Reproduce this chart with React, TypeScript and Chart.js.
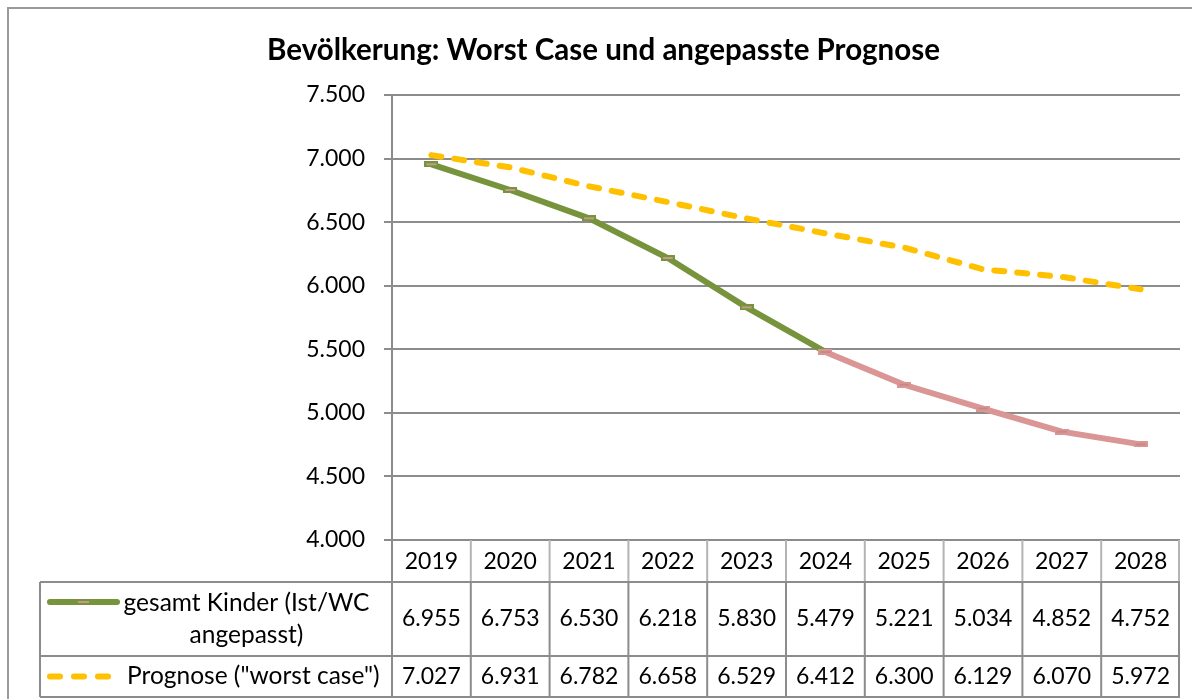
import React, { useEffect, useRef } from "react";
import { Chart, registerables } from "chart.js";

Chart.register(...registerables);

const TITLE = "Bevölkerung: Worst Case und angepasste Prognose";
const years = ["2019", "2020", "2021", "2022", "2023", "2024", "2025", "2026", "2027", "2028"];
const gesamtKinder = [6955, 6753, 6530, 6218, 5830, 5479, 5221, 5034, 4852, 4752];
const prognose = [7027, 6931, 6782, 6658, 6529, 6412, 6300, 6129, 6070, 5972];
const seriesNames = ["gesamt Kinder (Ist/WC angepasst)", 'Prognose ("worst case")'];
const legendLines1 = ["gesamt Kinder (Ist/WC", "angepasst)"];
const legendLines2 = ['Prognose ("worst case")'];
const Y_MIN = 4000;
const Y_MAX = 7500;
const Y_STEP = 500;
const ACTUAL_LAST_INDEX = 5;

const GREEN = "#77933C";
const PINK = "#D99694";
const ORANGE = "#FFC000";
const MARKER = "#C49A88";
const GRID = "#8c8c8c";
const FONT = "Lato, 'Open Sans', sans-serif";

const fmt = (v: number) => String(Math.round(v)).replace(/\B(?=(\d{3})+(?!\d))/g, ".");

function makeMarker(outer: string, inner: string): HTMLCanvasElement {
  const c = document.createElement("canvas");
  c.width = 14;
  c.height = 6;
  const g = c.getContext("2d")!;
  g.fillStyle = outer;
  g.fillRect(0, 0, 14, 6);
  g.fillStyle = inner;
  g.fillRect(2, 2, 10, 2);
  return c;
}

const tablePlugin = {
  id: "tablePlugin",
  afterDraw(chart: any) {
    const ctx = chart.ctx as CanvasRenderingContext2D;
    const area = chart.chartArea;
    const xs = chart.scales.x;
    const n = years.length;
    const colW = (area.right - area.left) / n;
    const top = area.bottom;
    const headerBottom = top + 42;
    const row1Bottom = headerBottom + 74;
    const row2Bottom = row1Bottom + 41;
    const tableLeft = 40;
    const rightEdge = area.right - 1;

    ctx.save();
    // frame
    ctx.strokeStyle = "#9a9a9a";
    ctx.lineWidth = 2;
    ctx.beginPath();
    ctx.moveTo(8, chart.height);
    ctx.lineTo(8, 8);
    ctx.lineTo(chart.width, 8);
    ctx.stroke();

    // title
    ctx.fillStyle = "#000";
    let size = 27;
    ctx.font = `bold ${size}px ${FONT}`;
    const w = ctx.measureText(TITLE).width;
    size = size * 673 / w;
    ctx.font = `bold ${size}px ${FONT}`;
    ctx.textAlign = "center";
    ctx.textBaseline = "middle";
    ctx.fillText(TITLE, 603.5, 50);

    // header row vertical lines
    ctx.strokeStyle = "#b4b4b4";
    ctx.lineWidth = 2;
    ctx.beginPath();
    for (let i = 1; i <= n; i++) {
      const x = i === n ? rightEdge : area.left + i * colW;
      ctx.moveTo(x, top);
      ctx.lineTo(x, headerBottom);
    }
    ctx.stroke();

    // body lines
    ctx.strokeStyle = GRID;
    ctx.beginPath();
    ctx.moveTo(area.left, top);
    ctx.lineTo(area.left, row2Bottom);
    for (let i = 1; i <= n; i++) {
      const x = i === n ? rightEdge : area.left + i * colW;
      ctx.moveTo(x, headerBottom);
      ctx.lineTo(x, row2Bottom);
    }
    ctx.moveTo(tableLeft, headerBottom);
    ctx.lineTo(tableLeft, row2Bottom);
    for (const y of [headerBottom, row1Bottom, row2Bottom]) {
      ctx.moveTo(tableLeft, y);
      ctx.lineTo(rightEdge + 1, y);
    }
    ctx.stroke();

    // texts
    ctx.fillStyle = "#000";
    ctx.font = `23px ${FONT}`;
    ctx.textAlign = "center";
    ctx.textBaseline = "middle";
    for (let i = 0; i < n; i++) {
      const cx = xs.getPixelForValue(i);
      ctx.fillText(years[i], cx, (top + headerBottom) / 2 + 1);
      ctx.fillText(fmt(gesamtKinder[i]), cx, (headerBottom + row1Bottom) / 2);
      ctx.fillText(fmt(prognose[i]), cx, (row1Bottom + row2Bottom) / 2);
    }

    // legend texts
    ctx.font = `24.5px ${FONT}`;
    const lcx = 246.5;
    ctx.fillText(legendLines1[0], lcx, headerBottom + 21);
    ctx.fillText(legendLines1[1], lcx, headerBottom + 53);
    ctx.textAlign = "left";
    ctx.fillText(legendLines2[0], 127, (row1Bottom + row2Bottom) / 2);

    // legend keys
    ctx.lineCap = "round";
    ctx.lineWidth = 6;
    ctx.strokeStyle = GREEN;
    ctx.beginPath();
    ctx.moveTo(50, headerBottom + 20);
    ctx.lineTo(117, headerBottom + 20);
    ctx.stroke();
    ctx.strokeStyle = MARKER;
    ctx.lineWidth = 2;
    ctx.lineCap = "butt";
    ctx.beginPath();
    ctx.moveTo(78, headerBottom + 20);
    ctx.lineTo(89, headerBottom + 20);
    ctx.stroke();

    ctx.strokeStyle = ORANGE;
    ctx.lineWidth = 6;
    ctx.lineCap = "round";
    ctx.setLineDash([10, 14]);
    ctx.beginPath();
    const ky = (row1Bottom + row2Bottom) / 2;
    ctx.moveTo(50, ky);
    ctx.lineTo(112, ky);
    ctx.stroke();
    ctx.setLineDash([]);
    ctx.restore();
  },
};

export default function App() {
  const ref = useRef<HTMLCanvasElement | null>(null);

  useEffect(() => {
    if (!ref.current) return;
    const greenMarker = makeMarker(GREEN, MARKER);
    const pinkMarker = makeMarker(PINK, "#C98886");
    const chart = new Chart(ref.current, {
      type: "line",
      data: {
        labels: years,
        datasets: [
          {
            label: seriesNames[0],
            data: gesamtKinder,
            borderColor: GREEN,
            borderWidth: 6,
            tension: 0,
            segment: {
              borderColor: (c: any) => (c.p0DataIndex >= ACTUAL_LAST_INDEX ? PINK : GREEN),
            },
            pointStyle: gesamtKinder.map((_, i) => (i < ACTUAL_LAST_INDEX ? greenMarker : pinkMarker)),
            pointRadius: 6,
            order: 1,
          },
          {
            label: seriesNames[1],
            data: prognose,
            borderColor: ORANGE,
            borderWidth: 6,
            borderDash: [10, 13],
            borderCapStyle: "round",
            tension: 0,
            pointRadius: 0,
            order: 2,
          },
        ],
      },
      options: {
        animation: false,
        responsive: true,
        maintainAspectRatio: false,
        layout: { padding: { top: 95, bottom: 159, left: 0, right: 0 } },
        plugins: {
          legend: { display: false },
          title: { display: false },
          tooltip: { enabled: false },
        },
        scales: {
          x: {
            type: "category",
            display: false,
            offset: true,
          },
          y: {
            min: Y_MIN,
            max: Y_MAX,
            afterFit: (s: any) => {
              s.width = 392;
            },
            ticks: {
              stepSize: Y_STEP,
              padding: 19,
              color: "#000",
              font: { family: FONT, size: 23 },
              callback: (v: any) => fmt(Number(v)),
            },
            grid: {
              color: GRID,
              lineWidth: 2,
              tickLength: 8,
              drawOnChartArea: true,
            },
            border: { display: true, color: GRID, width: 2 },
          },
        },
      },
      plugins: [tablePlugin],
    });
    return () => chart.destroy();
  }, []);

  return (
    <div style={{ position: "absolute", left: 0, top: 0, width: 1192, height: 699, background: "#fff" }}>
      <canvas ref={ref} />
    </div>
  );
}
